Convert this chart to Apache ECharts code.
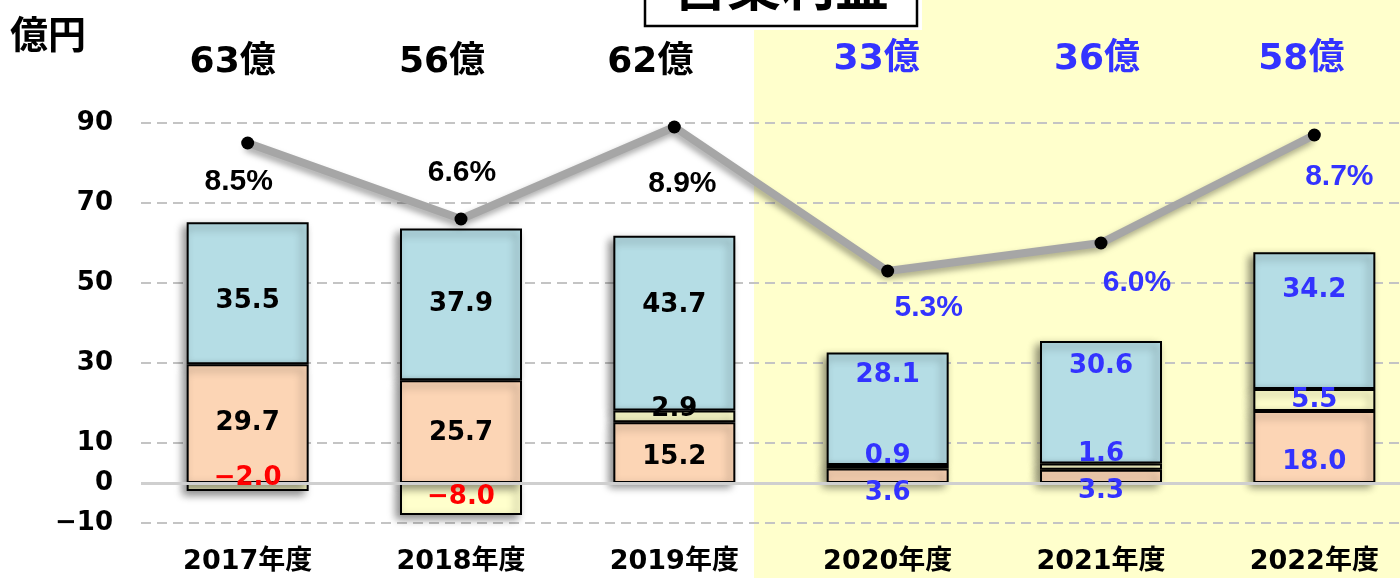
<!DOCTYPE html>
<html><head><meta charset="utf-8">
<script src="https://cdn.jsdelivr.net/npm/echarts@6/dist/echarts.min.js"></script>
<style>html,body{margin:0;padding:0;background:#fff}#c{width:1400px;height:578px}</style>
</head><body><div id="c"></div>
<script>
// ---- data ----
const categories = ['2017年度','2018年度','2019年度','2020年度','2021年度','2022年度'];
const salmonValues = [29.7, 25.7, 15.2, 3.6, 3.3, 18.0];
const yellowValues = [-2.0, -8.0, 2.9, 0.9, 1.6, 5.5];
const blueValues   = [35.5, 37.9, 43.7, 28.1, 30.6, 34.2];
const marginPct    = [8.5, 6.6, 8.9, 5.3, 6.0, 8.7];
const totals       = [63, 56, 62, 33, 36, 58];
const yTickLabels  = [-10, 0, 10, 30, 50, 70, 90];

// ---- style config (label nudges) ----
const catColor = ['#000','#000','#000','#3333ff','#3333ff','#3333ff'];
const salmonOff = [[0,0],[0,2],[0,5],[0,17],[0,15],[0,15]];
const yellowOff = [[0,-9],[0,-2],[0,-7],[0,-11],[0,-12],[0,0]];
const blueOff   = [[0,8],[0,0],[0,-18],[0,-34],[0,-36],[0,-30]];
const lineOff   = [[-9,39],[1,-46],[8,57],[41,37],[36,40],[25,42]];
const totalOff  = [[-15,3],[-19,3],[-24,3],[-11,0],[-4,0],[-13,0]];

const NUM = '"DejaVu Sans","Noto Sans CJK JP",sans-serif';
const fmt = v => v.toFixed(1).replace('-', '\u2212');

// visible bars (no labels)
function bar(vals, color, z) {
  return {
    type: 'bar', stack: 'a', barWidth: 122, barGap: '-100%', z: z,
    data: vals,
    itemStyle: { color: color, borderColor: '#000', borderWidth: 2,
      shadowColor: 'rgba(0,0,0,0.45)', shadowBlur: 8, shadowOffsetX: -4, shadowOffsetY: 4 },
    label: { show: false }, emphasis: { disabled: true }, silent: true
  };
}
// transparent overlay bars carrying the labels
function labelBar(vals, offs) {
  return {
    type: 'bar', stack: 'lbl', barWidth: 122, barGap: '-100%', z: 6,
    data: vals.map((v, i) => ({ value: v, label: { offset: offs[i], color: v < 0 ? '#ff0000' : catColor[i] } })),
    itemStyle: { color: 'rgba(0,0,0,0)' },
    label: { show: true, position: 'inside', fontFamily: NUM, fontWeight: 'bold', fontSize: 26,
      formatter: p => fmt(p.value) },
    emphasis: { disabled: true }, silent: true
  };
}

const chart = echarts.init(document.getElementById('c'));
const salmon = bar(salmonValues, '#fcd5b5', 4);
salmon.markLine = { silent: true, symbol: 'none', label: { show: false },
  lineStyle: { color: '#cfcfcf', width: 3, type: 'solid' }, data: [{ yAxis: 0 }] };

chart.setOption({
  animation: false,
  graphic: [
    { type: 'rect', z: -100, silent: true, shape: { x: 754, y: 0, width: 646, height: 578 }, style: { fill: '#ffffcc' } },
    { type: 'rect', z: 100, shape: { x: 640, y: -4, width: 282, height: 34 }, style: { fill: '#fff' } },
    { type: 'rect', z: 101, shape: { x: 645, y: -40, width: 272, height: 66 }, style: { fill: '#fff', stroke: '#000', lineWidth: 2.5 } },
    { type: 'text', z: 102, style: { text: '営業利益', x: 781, y: -15, align: 'center', verticalAlign: 'middle',
      font: 'bold 54px "Noto Sans CJK JP"', fill: '#000' } },
    { type: 'text', z: 102, style: { text: '億円', x: 10, y: 34, align: 'left', verticalAlign: 'middle',
      font: 'bold 38px "Noto Sans CJK JP"', fill: '#000' } }
  ],
  grid: [
    { left: 141, width: 1280, top: 123, bottom: 55, outerBoundsMode: 'none', containLabel: false },
    { left: 141, width: 1280, top: 30, height: 60, outerBoundsMode: 'none', containLabel: false }
  ],
  xAxis: [
    { type: 'category', data: categories, gridIndex: 0,
      axisLine: { show: false }, axisTick: { show: false },
      axisLabel: { margin: 25, color: '#000', fontFamily: NUM, fontWeight: 'bold', fontSize: 27 } },
    { type: 'category', data: categories, gridIndex: 1, show: false }
  ],
  yAxis: [
    { type: 'value', min: -10, max: 90, interval: 20, gridIndex: 0,
      axisLine: { show: false }, axisTick: { show: false },
      axisLabel: { margin: 28, color: '#000', fontFamily: NUM, fontWeight: 'bold', fontSize: 26,
        formatter: v => yTickLabels.includes(v) ? String(v).replace('-', '\u2212') : '' },
      splitLine: { show: true, lineStyle: { color: '#c4c4c4', width: 2, type: [10, 6] } } },
    { type: 'value', min: -1, max: 9, gridIndex: 0, show: false },
    { type: 'value', min: -10, max: 90, interval: 10, gridIndex: 0, position: 'left',
      axisLine: { show: false }, axisTick: { show: false }, splitLine: { show: false },
      axisLabel: { margin: 28, color: '#000', fontFamily: NUM, fontWeight: 'bold', fontSize: 26,
        formatter: v => (v === 0 && yTickLabels.includes(0)) ? '0' : '' } },
    { type: 'value', min: 0, max: 1, gridIndex: 1, show: false }
  ],
  series: [
    salmon,
    bar(yellowValues, '#ffffcc', 3),
    bar(blueValues, '#b5dde5', 2),
    labelBar(salmonValues, salmonOff),
    labelBar(yellowValues, yellowOff),
    labelBar(blueValues, blueOff),
    { type: 'line', xAxisIndex: 0, yAxisIndex: 1, z: 10, data: marginPct.map((v, i) => ({
        value: v, label: { offset: lineOff[i], color: catColor[i] } })),
      symbol: 'circle', symbolSize: 13, itemStyle: { color: '#000' },
      lineStyle: { color: '#a6a6a6', width: 8, shadowColor: 'rgba(0,0,0,0.35)', shadowBlur: 6, shadowOffsetX: -2, shadowOffsetY: 4 },
      label: { show: true, position: 'inside', fontFamily: '"Liberation Sans Narrow","Liberation Sans",sans-serif',
        fontWeight: 'bold', fontSize: 30, formatter: p => p.value.toFixed(1) + '%' },
      emphasis: { disabled: true } },
    { type: 'scatter', xAxisIndex: 1, yAxisIndex: 3, symbolSize: 0, itemStyle: { opacity: 1 },
      data: totals.map((v, i) => ({ value: [i, 0.5], label: { offset: totalOff[i], color: catColor[i] } })),
      label: { show: true, position: 'inside', fontFamily: NUM, fontWeight: 'bold', fontSize: 36,
        formatter: p => totals[p.dataIndex] + '億' },
      emphasis: { disabled: true } }
  ]
});
</script></body></html>
